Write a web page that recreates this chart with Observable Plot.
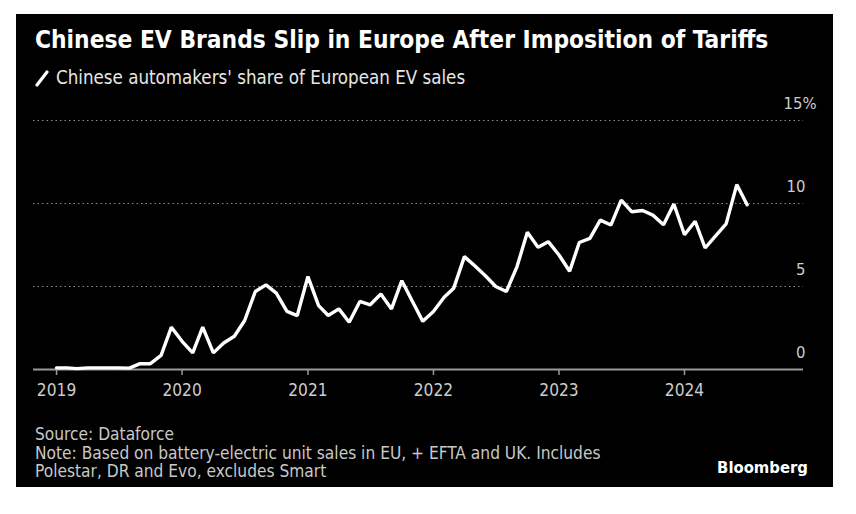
<!DOCTYPE html>
<html>
<head>
<meta charset="utf-8">
<script src="https://cdn.jsdelivr.net/npm/d3@7"></script>
<script src="https://cdn.jsdelivr.net/npm/@observablehq/plot@0.6"></script>
<style>
  html, body { margin: 0; padding: 0; background: #fff; }
  body { width: 856px; height: 514px; position: relative; overflow: hidden;
         font-family: "DejaVu Sans Condensed", "DejaVu Sans", sans-serif; font-stretch: condensed; }
  #panel { position: absolute; left: 16px; top: 14px; width: 817px; height: 473px; background: #000; }
  #title { position: absolute; left: 19px; top: 12px; color: #fff; font-weight: bold; font-size: 24.3px; line-height: 28px; white-space: nowrap; }
  #subtitle { position: absolute; left: 19px; top: 53px; color: #e6e6e6; font-size: 18.6px; line-height: 22px; white-space: nowrap; display: flex; align-items: center; }
  #subtitle svg { margin-right: 7px; }
  #chart { position: absolute; left: 0; top: 81px; }
  #footer { position: absolute; left: 19px; top: 411px; color: #c8c8c8; font-size: 17.2px; line-height: 18.6px; white-space: nowrap; }
  #brand { position: absolute; right: 25px; top: 444px; color: #fff; font-weight: bold; font-size: 16.5px; }
</style>
</head>
<body>
<div id="panel">
  <div id="title">Chinese EV Brands Slip in Europe After Imposition of Tariffs</div>
  <div id="subtitle"><svg width="14" height="17"><line x1="2" y1="15" x2="12" y2="2" stroke="#fff" stroke-width="3.2" stroke-linecap="round"/></svg>Chinese automakers' share of European EV sales</div>
  <div id="chart"></div>
  <div id="footer">Source: Dataforce<br>Note: Based on battery-electric unit sales in EU, + EFTA and UK. Includes<br>Polestar, DR and Evo, excludes Smart</div>
  <div id="brand">Bloomberg</div>
</div>
<script>
// Monthly share (%) of Chinese automakers in European EV sales, Jan 2019 – Jul 2024
const months = d3.utcMonths(new Date(Date.UTC(2019, 0, 1)), new Date(Date.UTC(2024, 7, 1)));
const share = [
  0.1, 0.1, 0.05, 0.1, 0.1, 0.1, 0.1, 0.08, 0.35, 0.35, 0.85, 2.55,   // 2019
  1.7, 1.0, 2.55, 1.0, 1.6, 2.0, 2.95, 4.7, 5.1, 4.6, 3.5, 3.25,      // 2020
  5.6, 3.85, 3.25, 3.65, 2.85, 4.1, 3.9, 4.55, 3.65, 5.35, 4.1, 2.9,  // 2021
  3.5, 4.35, 4.9, 6.8, 6.25, 5.65, 5.0, 4.7, 6.2, 8.27, 7.37, 7.7,    // 2022
  6.9, 5.92, 7.65, 7.9, 9.0, 8.7, 10.2, 9.5, 9.58, 9.3, 8.72, 9.97,   // 2023
  8.12, 8.93, 7.32, 8.07, 8.77, 11.14, 9.92                            // 2024
];
const yearTicks = [2019, 2020, 2021, 2022, 2023, 2024];
const yTicks = [0, 5, 10, 15];

const data = months.map((d, i) => ({date: d, value: share[i]}));

const yAxisStyle = {anchor: "right", tickSize: 0, tickPadding: 0, textAnchor: "end", dy: -17,
  fill: "#cccccc", fontSize: 16.5, label: null};

const chart = Plot.plot({
  width: 817,
  height: 320,
  marginTop: 25,
  marginBottom: 46,
  marginLeft: 17,
  marginRight: 30,
  style: {background: "transparent", color: "#c8c8c8", fontFamily: "'DejaVu Sans Condensed', 'DejaVu Sans', sans-serif", fontSize: "16px"},
  x: {type: "utc", domain: [new Date(Date.UTC(2018, 9, 26)), new Date(Date.UTC(2024, 11, 12))]},
  y: {domain: [0, 15]},
  marks: [
    Plot.gridY(yTicks.filter(d => d > 0), {stroke: "#8a8a8a", strokeOpacity: 1, strokeWidth: 1.2, strokeDasharray: "1.5,3"}),
    Plot.axisY(yTicks.filter(d => d < 15), {...yAxisStyle, dx: 2, tickFormat: d => String(d)}),
    Plot.axisY(yTicks.filter(d => d === 15), {...yAxisStyle, dx: 13, tickFormat: d => d + "%"}),
    Plot.axisX(yearTicks.map(y => new Date(Date.UTC(y, 0, 1))), {tickSize: 6, tickPadding: 8, stroke: "#9a9a9a", strokeWidth: 1.5,
      fill: "#cccccc", fontSize: 17.2, tickFormat: d3.utcFormat("%Y"), label: null}),
    Plot.ruleY([0], {stroke: "#9a9a9a", strokeWidth: 2}),
    Plot.line(data, {x: "date", y: "value", stroke: "#fff", strokeWidth: 3.4, strokeLinejoin: "miter"})
  ]
});
document.getElementById("chart").appendChild(chart);
</script>
</body>
</html>
